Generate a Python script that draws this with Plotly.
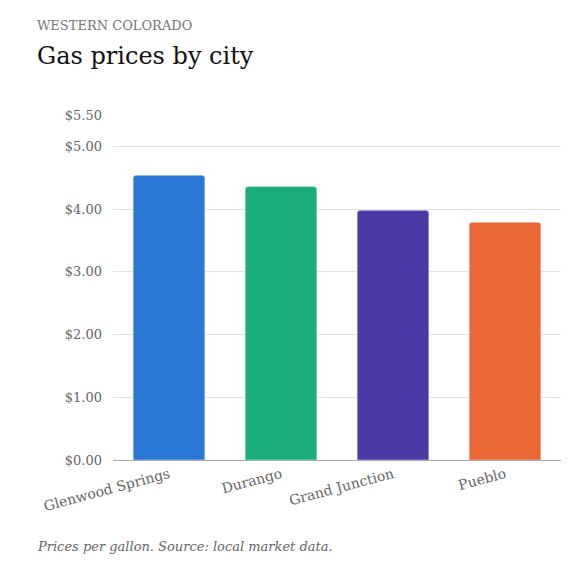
import plotly.graph_objects as go

cities = ["Glenwood Springs", "Durango", "Grand Junction", "Pueblo"]
prices = [4.54, 4.36, 3.98, 3.79]
colors = ["#2a78d6", "#1aaf7a", "#4b3aa6", "#ea6734"]
tick_vals = [0, 1, 2, 3, 4, 5, 5.5]
tick_text = ["$0.00", "$1.00", "$2.00", "$3.00", "$4.00", "$5.00", "$5.50"]

serif = "Georgia, 'DejaVu Serif', serif"

fig = go.Figure()
fig.add_trace(go.Bar(x=cities, y=prices, marker=dict(color=colors, cornerradius=3),
                     hovertemplate="%{x}: $%{y:.2f}<extra></extra>"))

fig.update_layout(
    width=586, height=562,
    margin=dict(l=105, r=33, t=107, b=110, autoexpand=False),
    paper_bgcolor="white", plot_bgcolor="white",
    bargap=0.36, showlegend=False,
    font=dict(family=serif, color="#555"),
)
fig.update_yaxes(range=[0, 5.5], tickvals=tick_vals, ticktext=tick_text,
                 gridcolor="#e2e2e2", zeroline=False, ticks="",
                 tickfont=dict(size=13, color="#666"), ticklabelstandoff=10)
fig.update_xaxes(showline=True, linecolor="#aaa", tickangle=-15,
                 tickfont=dict(size=14, color="#666"))

fig.add_annotation(text="WESTERN COLORADO", xref="paper", yref="paper", x=-0.174, y=1.258,
                   xanchor="left", yanchor="middle", showarrow=False,
                   font=dict(size=13, color="#777", family=serif))
fig.add_annotation(text="Gas prices by city", xref="paper", yref="paper", x=-0.174, y=1.171,
                   xanchor="left", yanchor="middle", showarrow=False,
                   font=dict(size=24, color="#111", family=serif))
fig.add_annotation(text="<i>Prices per gallon. Source: local market data.</i>", xref="paper",
                   yref="paper", x=-0.174, y=-0.252, xanchor="left", yanchor="middle",
                   showarrow=False, font=dict(size=13, color="#666", family=serif))

fig.write_html("out.html")
